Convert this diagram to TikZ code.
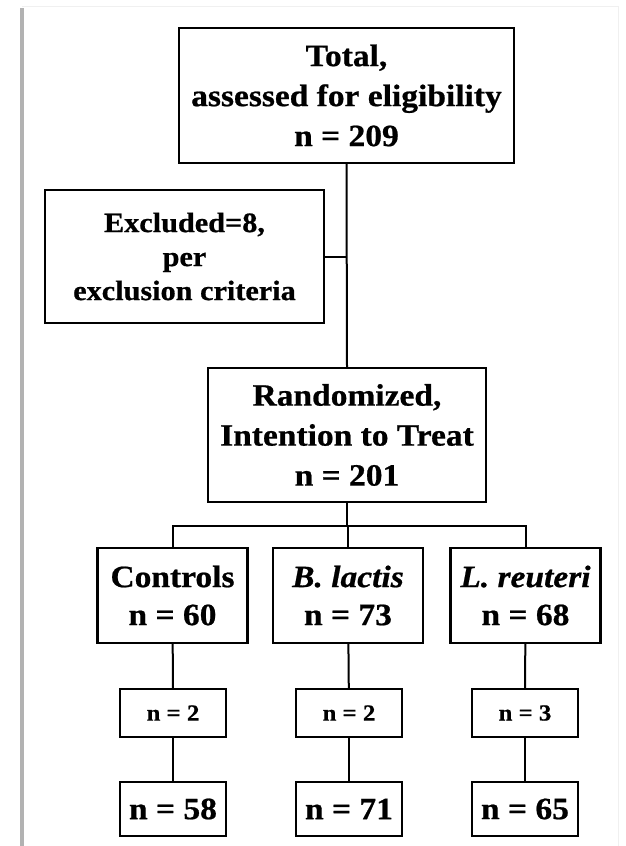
\documentclass[tikz,border=0pt]{standalone}
\usepackage{fontspec}
\setmainfont[FakeStretch=1.08, BoldFeatures={FakeBold=0.7}, BoldItalicFeatures={FakeBold=0.7}]{Liberation Serif}
\usetikzlibrary{calc}
\begin{document}
\begin{tikzpicture}[x=1pt, y=-1pt,
  every node/.style={font=\bfseries\fontsize{31}{40}\selectfont},
  box/.style={draw, line width=2.2pt, align=center, inner sep=0pt},
  smallbox/.style={box, minimum width=106pt, minimum height=48pt, font=\bfseries\fontsize{23}{26}\selectfont},
  endbox/.style={box, minimum width=106pt, minimum height=54pt},
  arm/.style={box, minimum width=150pt, minimum height=95pt, font=\bfseries\fontsize{31}{38}\selectfont},
  link/.style={line width=2pt}]
\useasboundingbox (0,0) rectangle (625,846);
% page shadow
\draw[line width=4pt, gray!60] (22,8) -- (22,846);
\draw[line width=0.6pt, gray!12] (22,6) -- (618,6) -- (618,846);
% top part
\node[box, minimum width=335pt, minimum height=135pt] (total) at (346.5,95.5) {Total,\\assessed for eligibility\\n = 209};
\node[box, minimum width=279pt, minimum height=133pt, font=\bfseries\fontsize{28}{34}\selectfont] (excl) at (184.5,256.5) {Excluded=8,\\per\\exclusion criteria};
\node[box, minimum width=278pt, minimum height=134pt] (rand) at (347,435) {Randomized,\\Intention to Treat\\n = 201};
% the three arms
\node[arm] (ctrl) at (172.5,595.5) {Controls\\n = 60};
\node[arm] (blac) at (348,595.5) {\textit{B. lactis}\\n = 73};
\node[arm] (lreu) at (525.5,595.5) {\textit{L. reuteri}\\n = 68};
\node[smallbox] (ctrlout) at (173,713) {n = 2};
\node[smallbox] (blacout) at (349,713) {n = 2};
\node[smallbox] (lreuout) at (525,713) {n = 3};
\node[endbox] (ctrlend) at (173,809) {n = 58};
\node[endbox] (blacend) at (349,809) {n = 71};
\node[endbox] (lreuend) at (525,809) {n = 65};
% connectors
\coordinate (j) at (excl.east -| total.south);
\coordinate (fork) at ($(rand.south)+(0,23)$);
\draw[link] (total.south) -- (rand.north);
\draw[link] (excl.east) -- (j);
\draw[link] (rand.south) -- (fork);
\draw[link] (fork) -| (ctrl.north);
\draw[link] (fork) -| (lreu.north);
\draw[link] (fork) -| (blac.north);
\draw[link] (ctrl) -- (ctrlout);
\draw[link] (blac) -- (blacout);
\draw[link] (lreu) -- (lreuout);
\draw[link] (ctrlout) -- (ctrlend);
\draw[link] (blacout) -- (blacend);
\draw[link] (lreuout) -- (lreuend);
\end{tikzpicture}
\end{document}
